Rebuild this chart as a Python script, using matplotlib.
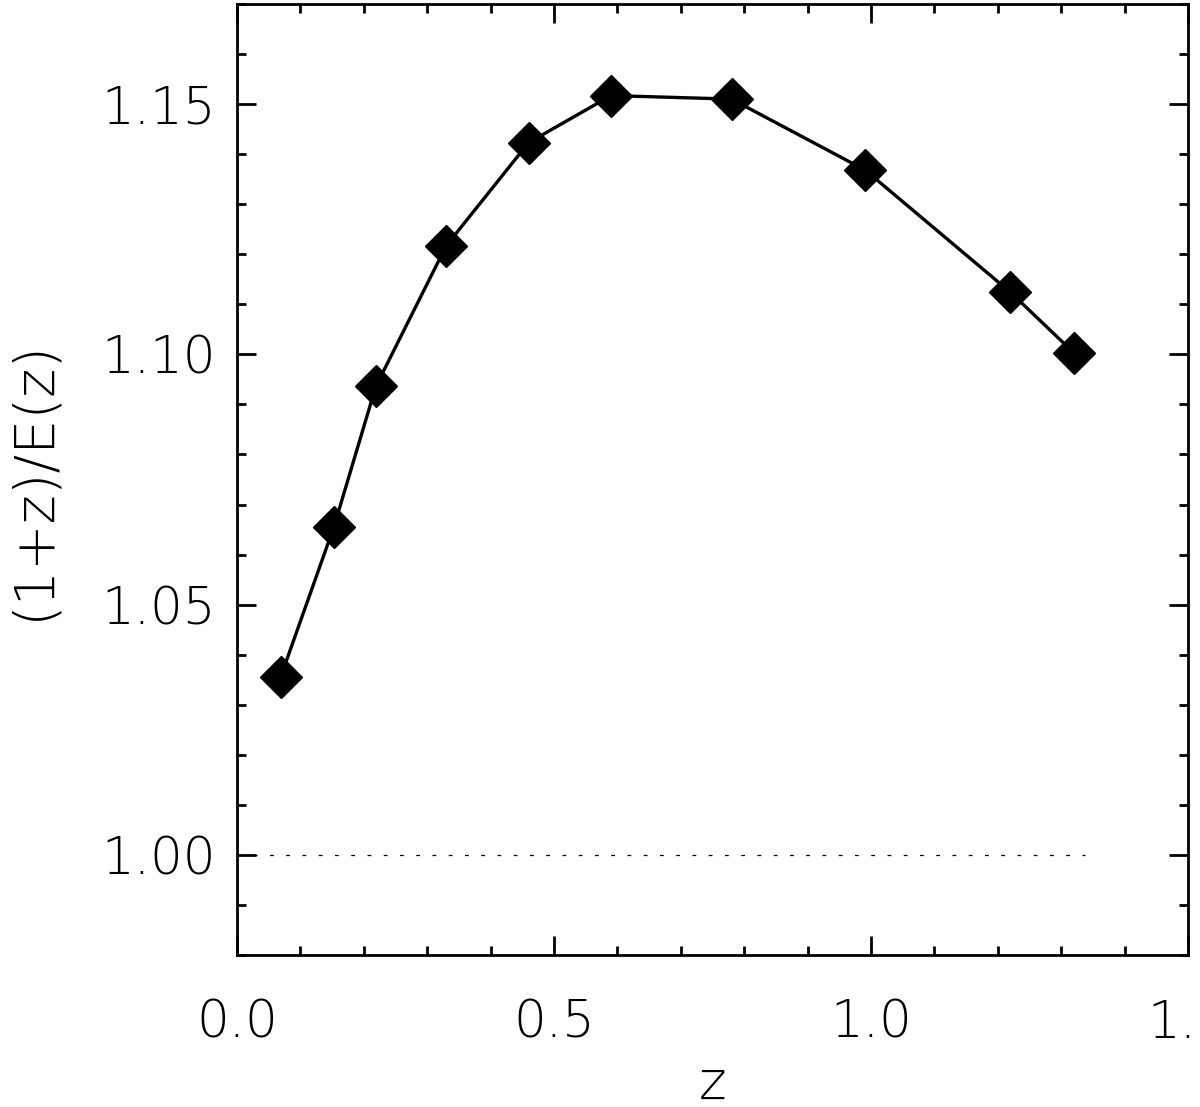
import matplotlib
matplotlib.use("Agg")
import matplotlib.pyplot as plt
from matplotlib.ticker import MultipleLocator

# redshift bins and (1+z)/E(z) values
z_vals = [0.069, 0.153, 0.219, 0.330, 0.460, 0.590, 0.780, 0.991, 1.220, 1.320]
ratio_vals = [1.0356, 1.0656, 1.0936, 1.1217, 1.1423, 1.1517, 1.1510, 1.1368, 1.1124, 1.1003]

# reference level
ref_z = [0.0, 1.338]
ref_val = [1.0, 1.0]

x_ticks = [0.0, 0.5, 1.0, 1.5]
x_ticklabels = ["0.0", "0.5", "1.0", "1.5"]
y_ticks = [1.00, 1.05, 1.10, 1.15]
y_ticklabels = ["1.00", "1.05", "1.10", "1.15"]

plt.rcParams["font.family"] = ["DejaVu Sans"]

fig = plt.figure(figsize=(12, 11.07), dpi=100)
ax = fig.add_axes([0.1975, 0.1373, 0.7925, 0.8591])

ax.plot(ref_z, ref_val, color="black", lw=0.9, dashes=(3, 10))
ax.plot(z_vals, ratio_vals, color="black", lw=2.4, marker="D", ms=21,
        mfc="black", mec="black", mew=1)

ax.set_xlim(0.0, 1.5)
ax.set_ylim(0.98, 1.17)

ax.set_xticks(x_ticks)
ax.set_xticklabels(x_ticklabels)
ax.set_yticks(y_ticks)
ax.set_yticklabels(y_ticklabels)
ax.xaxis.set_minor_locator(MultipleLocator(0.1))
ax.yaxis.set_minor_locator(MultipleLocator(0.01))

ax.tick_params(which="both", direction="in", top=True, right=True, width=2, colors="black")
ax.tick_params(which="major", length=13.7)
ax.tick_params(which="minor", length=6.8)
ax.tick_params(axis="x", which="major", pad=31, labelsize=37)
ax.tick_params(axis="y", which="major", pad=15, labelsize=37)
for lbl in ax.get_xticklabels() + ax.get_yticklabels():
    lbl.set_fontweight("light")

for sp in ax.spines.values():
    sp.set_linewidth(2)

ax.set_xlabel("z", fontsize=38, fontweight="light")
ax.set_ylabel("(1+z)/E(z)", fontsize=40, fontweight="light")
ax.xaxis.set_label_coords(0.5, -0.108)
ax.yaxis.set_label_coords(-0.185, 0.5)

fig.savefig("out.png", dpi=100)
